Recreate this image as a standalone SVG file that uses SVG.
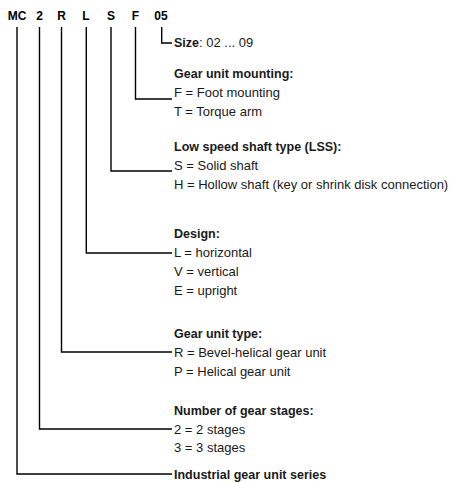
<svg xmlns="http://www.w3.org/2000/svg" width="450" height="482" viewBox="0 0 450 482">
<style>
text{font-family:"Liberation Sans",Arial,sans-serif;font-size:13px;fill:#1a1a1a}
.b{font-weight:bold;font-size:12.5px}
.h{font-weight:bold;font-size:12px;text-anchor:middle;fill:#000}
.c{fill:none;stroke:#000;stroke-width:1.4}
</style>
<rect width="450" height="482" fill="#fff"/>
<g id="code">
<text class="h" x="17" y="20">MC</text>
<text class="h" x="39.5" y="20">2</text>
<text class="h" x="61.5" y="20">R</text>
<text class="h" x="86" y="20">L</text>
<text class="h" x="111" y="20">S</text>
<text class="h" x="135.5" y="20">F</text>
<text class="h" x="161" y="20">05</text>
</g>
<g id="connectors">
<path class="c" d="M161.7 27V43H172"/>
<path class="c" d="M135.5 27V99H172"/>
<path class="c" d="M111 27V171H172"/>
<path class="c" d="M86.3 27V253H172"/>
<path class="c" d="M61.5 27V352H172"/>
<path class="c" d="M39.5 27V429H172"/>
<path class="c" d="M17 27V474H172"/>
</g>
<g id="size"><text x="174" y="47"><tspan class="b">Size</tspan>: 02 ... 09</text></g>
<g id="mounting">
<text class="b" x="174" y="78">Gear unit mounting:</text>
<text x="174" y="97">F = Foot mounting</text>
<text x="174" y="116">T = Torque arm</text>
</g>
<g id="lss">
<text class="b" x="174" y="151">Low speed shaft type (LSS):</text>
<text x="174" y="170">S = Solid shaft</text>
<text x="174" y="189">H = Hollow shaft (key or shrink disk connection)</text>
</g>
<g id="design">
<text class="b" x="174" y="238">Design:</text>
<text x="174" y="257">L = horizontal</text>
<text x="174" y="276">V = vertical</text>
<text x="174" y="295">E = upright</text>
</g>
<g id="type">
<text class="b" x="174" y="338">Gear unit type:</text>
<text x="174" y="357">R = Bevel-helical gear unit</text>
<text x="174" y="376">P = Helical gear unit</text>
</g>
<g id="stages">
<text class="b" x="174" y="415">Number of gear stages:</text>
<text x="174" y="434">2 = 2 stages</text>
<text x="174" y="452">3 = 3 stages</text>
</g>
<g id="series">
<text class="b" x="174" y="479">Industrial gear unit series</text>
</g>
</svg>
